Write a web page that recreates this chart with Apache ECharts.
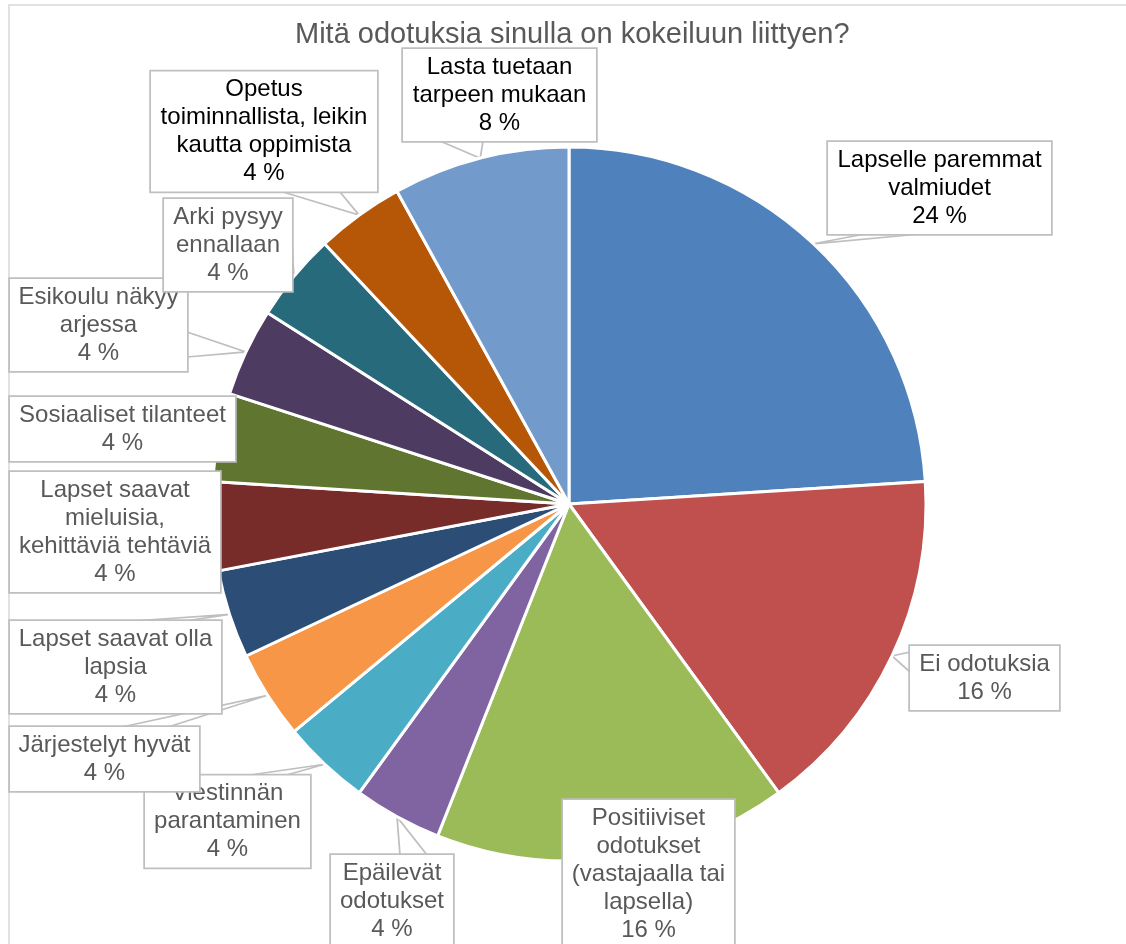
<!DOCTYPE html>
<html>
<head>
<meta charset="utf-8">
<title>Mitä odotuksia sinulla on kokeiluun liittyen?</title>
<script src="https://cdn.jsdelivr.net/npm/echarts@6/dist/echarts.min.js"></script>
<style>
  html, body { margin: 0; padding: 0; background: #fff; }
  #chart { width: 1126px; height: 944px; }
</style>
</head>
<body>
<div id="chart"></div>
<script>
const title = 'Mitä odotuksia sinulla on kokeiluun liittyen?'

const categories = [
  'Lapselle paremmat\nvalmiudet',
  'Ei odotuksia',
  'Positiiviset\nodotukset\n(vastajaalla tai\nlapsella)',
  'Epäilevät\nodotukset',
  'Viestinnän\nparantaminen',
  'Järjestelyt hyvät',
  'Lapset saavat olla\nlapsia',
  'Lapset saavat\nmieluisia,\nkehittäviä tehtäviä',
  'Sosiaaliset tilanteet',
  'Esikoulu näkyy\narjessa',
  'Arki pysyy\nennallaan',
  'Opetus\ntoiminnallista, leikin\nkautta oppimista',
  'Lasta tuetaan\ntarpeen mukaan'
]
// answers per category (25 respondents -> 24 %, 16 %, 4 % ...)
const counts = [6, 4, 4, 1, 1, 1, 1, 1, 1, 1, 1, 1, 2]

const colors = [
  '#4F81BD', '#C0504D', '#9BBB59', '#8064A2', '#4BACC6', '#F79646', '#2C4D75',
  '#772C2A', '#5F7530', '#4D3B62', '#276A7C', '#B65708', '#729ACA'
]
// labels written in black, the rest in dark grey
const blackLabels = [0, 11, 12]

// callout boxes: left, top, width, height
const labelBoxes = [
  [828, 142, 223, 92],
  [910, 646, 149, 64],
  [563, 800, 171, 148],
  [331, 855, 122, 92],
  [145, 776, 165, 91],
  [10, 727, 189, 64],
  [10, 621, 211, 92],
  [10, 472, 210, 120],
  [10, 397, 225, 64],
  [10, 279, 177, 92],
  [164, 199, 128, 92],
  [151, 71, 226, 121],
  [403, 49, 193, 92]
]
// where the callout wedge meets its box (x1, y1, x2, y2), null = no wedge
const wedgeBases = [
  [865, 234, 920, 234],
  [910, 652, 910, 672],
  null,
  [400, 855, 427, 855],
  [243, 776, 283, 776],
  [122, 727, 168, 727],
  [133, 621, 185, 621],
  null,
  null,
  [187, 332, 187, 357],
  [290, 215, 290, 262],
  [283, 192, 340, 192],
  [440, 141, 483, 141]
]

const chart = echarts.init(document.getElementById('chart'))

const data = categories.map((name, i) => ({
  name: name,
  value: counts[i],
  itemStyle: { color: colors[i] },
  label: {
    width: labelBoxes[i][2] - 12,
    color: blackLabels.includes(i) ? '#000000' : '#595959'
  },
  labelLine: { show: wedgeBases[i] !== null }
}))

const option = {
  animation: false,
  backgroundColor: '#ffffff',
  title: {
    text: title,
    left: 290,
    top: 15,
    textStyle: {
      fontFamily: 'Liberation Sans, Arial, sans-serif',
      fontSize: 29,
      fontWeight: 'normal',
      color: '#595959'
    }
  },
  graphic: [
    {
      type: 'rect',
      shape: { x: 9, y: 5, width: 1200, height: 1000 },
      style: { fill: 'none', stroke: '#D9D9D9', lineWidth: 1.5 },
      silent: true,
      z: -1
    }
  ],
  series: [
    {
      type: 'pie',
      center: [569, 504],
      radius: 357,
      startAngle: 90,
      clockwise: true,
      avoidLabelOverlap: false,
      itemStyle: {
        borderColor: '#ffffff',
        borderWidth: 3
      },
      label: {
        show: true,
        position: 'outside',
        formatter: (p) => p.name + '\n' + Math.round(p.percent) + ' %',
        fontFamily: 'Liberation Sans, Arial, sans-serif',
        fontSize: 24,
        lineHeight: 28,
        align: 'center',
        backgroundColor: '#ffffff',
        borderColor: '#BFBFBF',
        borderWidth: 1.75,
        padding: [7, 6, 1, 6]
      },
      labelLine: {
        lineStyle: { color: '#BFBFBF', width: 1.75 }
      },
      labelLayout: (params) => {
        const i = params.dataIndex
        const box = labelBoxes[i]
        const out = {
          x: box[0] + box[2] / 2,
          y: box[1] + box[3] / 2,
          align: 'center',
          verticalAlign: 'middle'
        }
        const base = wedgeBases[i]
        const pts = params.labelLinePoints
        if (base && pts) {
          out.labelLinePoints = [[base[0], base[1]], pts[0], [base[2], base[3]]]
        }
        return out
      },
      emphasis: { disabled: true },
      data: data
    }
  ]
}

chart.setOption(option)
</script>
</body>
</html>
